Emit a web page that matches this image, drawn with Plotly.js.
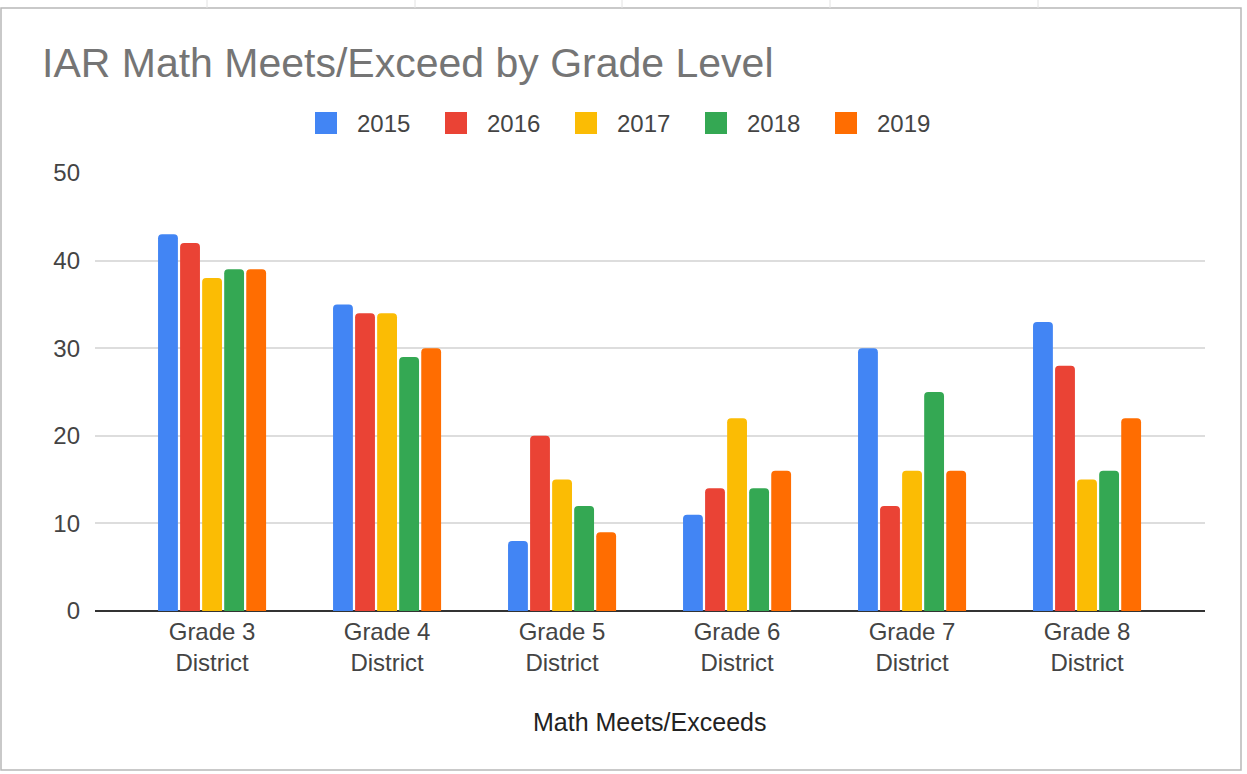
<!DOCTYPE html>
<html>
<head>
<meta charset="utf-8">
<script src="https://cdn.plot.ly/plotly-3.0.1.min.js"></script>
<style>
  html, body { margin: 0; padding: 0; background: #fff; }
  #chart { width: 1247px; height: 774px; }
</style>
</head>
<body>
<div id="chart"></div>
<script>
// Данные
const categories = ['Grade 3<br>District', 'Grade 4<br>District', 'Grade 5<br>District',
                    'Grade 6<br>District', 'Grade 7<br>District', 'Grade 8<br>District'];
const years = ['2015', '2016', '2017', '2018', '2019'];
const values2015 = [43, 35, 8, 11, 30, 33];
const values2016 = [42, 34, 20, 14, 12, 28];
const values2017 = [38, 34, 15, 22, 16, 15];
const values2018 = [39, 29, 12, 14, 25, 16];
const values2019 = [39, 30, 9, 16, 16, 22];
const yTicks = [0, 10, 20, 30, 40, 50];
const colors = ['#4285F4', '#EA4335', '#FBBC04', '#34A853', '#FF6D01'];

const allValues = [values2015, values2016, values2017, values2018, values2019];

// Область графика в пикселях
const W = 1247, H = 774;
const plotL = 95, plotR = 1205, plotT = 173, plotB = 611;
const px = x => (x - plotL) / (plotR - plotL);
const py = y => (plotB - y) / (plotB - plotT);

const font = 'Arial, "Liberation Sans", sans-serif';

const traces = years.map((yr, i) => ({
    x: categories,
    y: allValues[i],
    type: 'bar',
    name: yr,
    marker: { color: colors[i], cornerradius: 4 },
    showlegend: false,
    hoverinfo: 'y'
}));

// Легенда вручную (квадраты крупнее стандартных)
const shapes = [];
const annotations = [];
years.forEach((yr, i) => {
    const x0 = 315 + i * 130;
    shapes.push({
        type: 'rect', xref: 'paper', yref: 'paper',
        x0: px(x0), x1: px(x0 + 22), y0: py(134), y1: py(112),
        fillcolor: colors[i], line: { width: 0 }
    });
    annotations.push({
        xref: 'paper', yref: 'paper', x: px(x0 + 40), y: py(123),
        xanchor: 'left', yanchor: 'middle', showarrow: false,
        text: yr, font: { family: font, size: 24, color: '#444' }
    });
});

// Подпись оси X
annotations.push({
    xref: 'paper', yref: 'paper', x: px(649), y: py(722),
    xanchor: 'center', yanchor: 'middle', showarrow: false,
    text: 'Math Meets/Exceeds', font: { family: font, size: 25, color: '#222' }
});

// Рамка диаграммы и линии таблицы сверху
shapes.push({
    type: 'rect', xref: 'paper', yref: 'paper', layer: 'below',
    x0: px(1), x1: px(1241), y0: py(770), y1: py(8),
    line: { color: '#b8b8b8', width: 1.5 }
});
[207, 415, 622, 830, 1038].forEach(x => {
    shapes.push({
        type: 'line', xref: 'paper', yref: 'paper', layer: 'below',
        x0: px(x), x1: px(x), y0: py(8), y1: py(0),
        line: { color: '#e2e2e2', width: 1 }
    });
});

const layout = {
    width: W,
    height: H,
    margin: { l: plotL, r: W - plotR, t: plotT, b: H - plotB, pad: 0 },
    paper_bgcolor: '#fff',
    plot_bgcolor: '#fff',
    font: { family: font, color: '#444' },
    title: {
        text: 'IAR Math Meets/Exceed by Grade Level',
        xref: 'container', yref: 'container',
        x: 42 / W, xanchor: 'left',
        y: 1 - 63 / H, yanchor: 'middle',
        font: { family: font, size: 41, color: '#757575' }
    },
    barmode: 'group',
    bargap: 0.37,
    bargroupgap: 0.1,
    xaxis: {
        type: 'category',
        range: [-0.669, 5.674],
        showgrid: false,
        showline: false,
        zeroline: false,
        ticks: '',
        ticklabelstandoff: 4,
        tickfont: { family: font, size: 24, color: '#444' },
        fixedrange: true
    },
    yaxis: {
        range: [0, 50],
        tickvals: yTicks,
        ticktext: yTicks.map(String),
        showgrid: true,
        gridcolor: '#dddddd',
        gridwidth: 2,
        zeroline: true,
        zerolinecolor: '#333',
        zerolinewidth: 2,
        showline: false,
        ticks: '',
        ticklabelstandoff: 14,
        tickfont: { family: font, size: 24, color: '#444' },
        fixedrange: true
    },
    shapes: shapes,
    annotations: annotations,
    showlegend: false
};

Plotly.newPlot('chart', traces, layout, { displayModeBar: false, staticPlot: true });
</script>
</body>
</html>
